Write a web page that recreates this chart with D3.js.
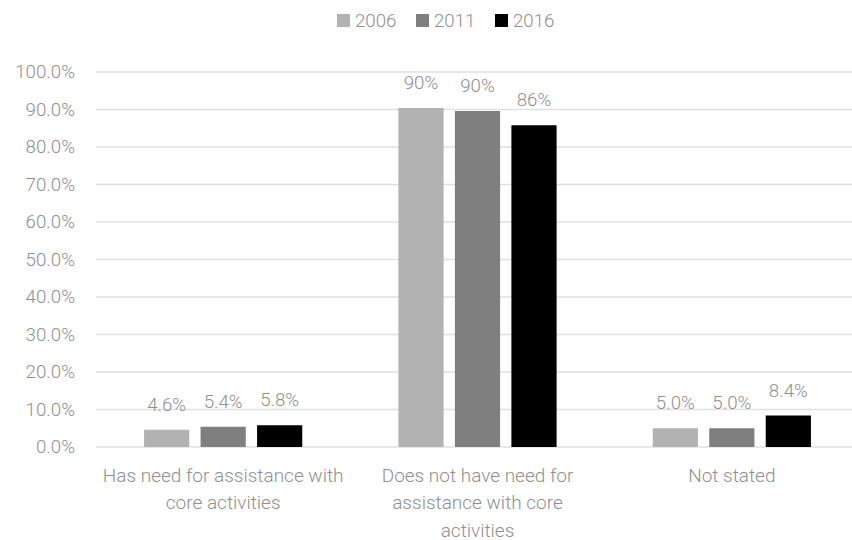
<!DOCTYPE html>
<html>
<head>
<meta charset="utf-8">
<script src="https://cdn.jsdelivr.net/npm/d3@7"></script>
<style>
  html, body { margin: 0; padding: 0; background: #ffffff; }
  svg { display: block; font-family: Roboto, "Noto Sans", sans-serif; font-weight: 300; }
</style>
</head>
<body>
<svg id="chart" width="852" height="540"></svg>
<script>
// Need for assistance with core activities, share of people by census year
const categories = [
  "Has need for assistance with core activities",
  "Does not have need for assistance with core activities",
  "Not stated"
];
// how each category caption breaks across lines
const categoryLines = [
  ["Has need for assistance with", "core activities"],
  ["Does not have need for", "assistance with core", "activities"],
  ["Not stated"]
];
const seriesNames = ["2006", "2011", "2016"];
const seriesColors = ["#b2b2b2", "#7f7f7f", "#000000"];
const values2006 = [4.6, 90.4, 5.0];
const values2011 = [5.4, 89.6, 5.0];
const values2016 = [5.8, 85.8, 8.4];
// decimals shown in each category's value labels
const labelDecimals = [1, 0, 1];
const yTicks = [0, 10, 20, 30, 40, 50, 60, 70, 80, 90, 100];

const seriesValues = [values2006, values2011, values2016];

const svg = d3.select("#chart");
const W = 852, H = 540;
const margin = { left: 96, right: -7, top: 72, bottom: 93 };
const fontSize = 18.7;
const captionSize = 19;
const textColor = "#8f8f8f";

const x0 = d3.scaleBand()
  .domain(categories)
  .range([margin.left, W - margin.right]);

const x1 = d3.scaleBand()
  .domain(seriesNames)
  .range([0, 158.2])
  .paddingInner(0.2);

const y = d3.scaleLinear()
  .domain([0, 100])
  .range([H - margin.bottom, margin.top]);

// gridlines
svg.append("g")
  .selectAll("line")
  .data(yTicks)
  .join("line")
  .attr("x1", margin.left)
  .attr("x2", W)
  .attr("y1", d => y(d))
  .attr("y2", d => y(d))
  .attr("stroke", "#e0e0e0")
  .attr("stroke-width", 1.5);

// y axis labels
const yAxis = d3.axisLeft(y)
  .tickValues(yTicks)
  .tickSize(0)
  .tickPadding(21)
  .tickFormat(d => d3.format(".1f")(d) + "%");

svg.append("g")
  .attr("transform", `translate(${margin.left},0)`)
  .call(yAxis)
  .call(g => g.select(".domain").remove())
  .call(g => g.selectAll("text")
    .attr("fill", textColor)
    .style("font-size", fontSize + "px")
    .style("font-family", "Roboto, sans-serif")
    .style("font-weight", 300));

// bars
const rows = [];
categories.forEach((c, ci) => {
  seriesNames.forEach((s, si) => {
    rows.push({ cat: c, ci, series: s, si, value: seriesValues[si][ci] });
  });
});

const groupWidth = x1.range()[1];
const offset = (x0.bandwidth() - groupWidth) / 2;
const barX = d => x0(d.cat) + offset + x1(d.series);

svg.append("g")
  .selectAll("rect")
  .data(rows)
  .join("rect")
  .attr("x", barX)
  .attr("y", d => y(d.value))
  .attr("width", x1.bandwidth())
  .attr("height", d => y(0) - y(d.value))
  .attr("fill", d => seriesColors[d.si]);

// value labels
svg.append("g")
  .selectAll("text")
  .data(rows)
  .join("text")
  .attr("x", d => barX(d) + x1.bandwidth() / 2)
  .attr("y", d => y(d.value) - 19)
  .attr("text-anchor", "middle")
  .attr("fill", textColor)
  .style("font-size", fontSize + "px")
  .text(d => d3.format("." + labelDecimals[d.ci] + "f")(d.value) + "%");

// category captions
const lineHeight = 27.5;
categories.forEach((c, ci) => {
  const cx = x0(c) + x0.bandwidth() / 2;
  svg.append("text")
    .attr("text-anchor", "middle")
    .attr("fill", textColor)
    .style("font-size", captionSize + "px")
    .selectAll("tspan")
    .data(categoryLines[ci])
    .join("tspan")
    .attr("x", cx)
    .attr("y", (d, i) => 481.5 + i * lineHeight)
    .text(d => d);
});

// legend
const legendX = [337, 416, 495];
const legend = svg.append("g");
seriesNames.forEach((s, i) => {
  legend.append("rect")
    .attr("x", legendX[i])
    .attr("y", 14)
    .attr("width", 13)
    .attr("height", 13)
    .attr("fill", seriesColors[i]);
  legend.append("text")
    .attr("x", legendX[i] + 18)
    .attr("y", 26.7)
    .attr("fill", textColor)
    .style("font-size", fontSize + "px")
    .text(s);
});
</script>
</body>
</html>
